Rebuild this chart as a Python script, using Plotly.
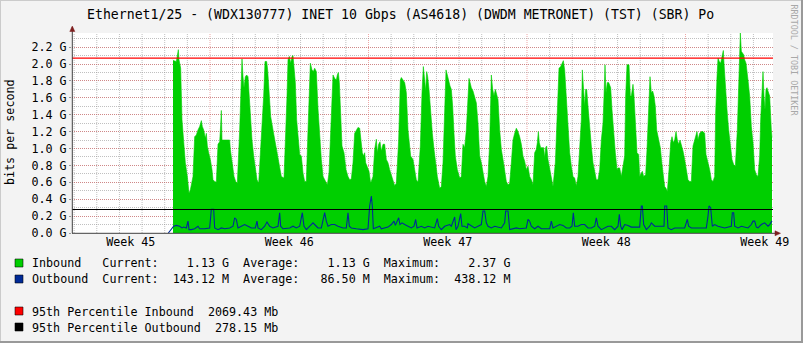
import plotly.graph_objects as go

# ---------------- data (time index: 1 step ~ 21.2 min, 0 = left edge) -------------
in_t = [303, 305, 313, 316, 319, 321, 325, 326, 330, 335, 340, 346, 351, 355, 360, 363,
        368, 373, 378, 383, 388, 391, 395, 400, 403, 406, 410, 415, 420, 423, 428, 433,
        438, 443, 446, 448, 450, 456, 473, 475, 480, 486, 491, 496,
        503, 506, 510, 513, 516, 520, 524, 528, 531, 535, 540, 545, 550, 555, 560,
        570, 575, 579, 584, 587, 591, 596, 603, 608, 615, 621, 628, 636,
        640, 645, 648, 652, 656, 660, 663, 666, 670, 674, 679, 683, 688, 693, 698, 703,
        708, 712, 715, 720, 724, 728, 733,
        738, 743, 748, 753, 760, 766, 771, 776, 780, 783, 788, 793, 796, 799, 802, 806,
        810, 816, 822, 828, 833, 838, 843, 848, 853, 858, 863, 866, 871, 875, 878, 881,
        886, 891, 896, 903, 908, 913, 916, 920, 924, 928, 933, 938, 943, 948, 953, 960,
        968, 973, 980, 985, 988, 993, 998, 1003, 1008, 1016, 1023, 1028, 1033, 1038,
        1045, 1050, 1054, 1058, 1061, 1064, 1067, 1071, 1076, 1081, 1086, 1091, 1096,
        1103, 1108, 1113, 1118, 1122, 1126, 1130, 1134, 1138, 1142, 1146, 1150, 1156,
        1163, 1168, 1173, 1178, 1183,
        1191, 1198, 1203, 1208, 1213, 1218, 1223, 1228, 1233, 1238, 1243, 1248, 1253,
        1256, 1258, 1262, 1266, 1270, 1274, 1278, 1283, 1288, 1293, 1298, 1303, 1308,
        1313, 1318, 1323, 1328, 1333, 1338, 1343, 1348, 1353, 1358, 1363, 1368, 1373,
        1378, 1383, 1388, 1393, 1396, 1399, 1402, 1406, 1415, 1418, 1421, 1424, 1428,
        1433, 1438, 1443, 1450, 1456, 1461, 1466, 1471, 1474, 1478, 1483, 1488, 1493,
        1498, 1503, 1508, 1513, 1518, 1523, 1528, 1531, 1535, 1538, 1541, 1544, 1548,
        1553, 1558, 1563, 1568, 1573, 1578, 1583, 1588, 1593, 1596, 1599, 1602, 1606,
        1610, 1616, 1620, 1625, 1630, 1635,
        1638, 1643, 1648, 1653, 1658, 1661, 1665, 1671, 1675, 1678, 1683, 1686, 1690,
        1695, 1700, 1703, 1708, 1711, 1715, 1721, 1725, 1728, 1731, 1734, 1738, 1742,
        1746, 1750, 1754, 1760, 1765, 1770, 1774, 1778, 1782, 1786, 1791, 1796, 1800,
        1804, 1808, 1812, 1816, 1820, 1824, 1828, 1833, 1838, 1843, 1848, 1853, 1858,
        1863, 1868, 1872, 1875, 1878, 1883, 1888, 1893, 1898, 1902, 1908, 1913, 1918,
        1923, 1928, 1931, 1935, 1938, 1942, 1946, 1950, 1954, 1956, 1960, 1965, 1970,
        1975, 1980, 1985, 1990, 1996, 2000, 2003, 2005, 2008, 2011, 2015, 2018, 2022,
        2028, 2033, 2038, 2043, 2048, 2053, 2058, 2063, 2066, 2070, 2073, 2076, 2079,
        2082, 2085, 2088, 2093, 2098, 2100]
in_g = [2.05, 2.04, 2.03, 2.13, 2.17, 2.05, 1.95, 1.95, 1.34, 1.07, 0.83, 0.67, 0.47, 0.51, 0.59, 0.67,
        1.14, 1.16, 1.22, 1.26, 1.33, 1.26, 1.22, 1.12, 1.18, 1.03, 0.95, 0.87, 0.75, 0.63, 0.61, 0.60,
        1.05, 1.08, 1.28, 1.45, 1.10, 1.10, 1.10, 0.99, 0.83, 0.67, 0.61, 0.59,
        1.22, 1.62, 2.06, 1.85, 1.72, 1.85, 1.87, 1.85, 1.66, 1.30, 1.10, 0.91, 0.75, 0.63, 0.59,
        1.22, 1.62, 2.03, 2.03, 1.93, 1.70, 1.38, 1.22, 1.10, 0.95, 0.83, 0.67, 0.65,
        1.03, 1.62, 2.05, 2.09, 2.01, 2.09, 2.10, 1.97, 1.78, 1.34, 1.07, 0.93, 0.91, 0.71, 0.61, 0.61,
        1.22, 1.81, 2.01, 1.93, 1.91, 1.95, 1.91,
        1.47, 1.10, 0.87, 0.67, 0.61, 0.57, 0.71, 1.14, 1.54, 1.87, 1.83, 1.81, 1.87, 1.90, 1.78, 1.42,
        1.03, 0.95, 0.75, 0.67, 0.63, 0.64, 0.83, 1.18, 1.22, 1.25, 1.24, 1.10, 0.95, 0.91, 0.95, 0.83,
        0.79, 0.73, 0.59, 0.67, 0.99, 1.11, 0.95, 1.05, 1.08, 0.97, 1.05, 1.05, 0.87, 0.83, 0.75, 0.67,
        0.56, 0.59, 1.10, 1.81, 1.84, 1.81, 1.78, 1.66, 1.22, 0.91, 0.87, 0.75, 0.63, 0.60,
        1.03, 1.66, 1.97, 1.81, 1.68, 1.91, 1.85, 1.70, 1.42, 1.18, 0.99, 0.83, 0.67,
        0.53, 0.55, 0.83, 1.62, 1.93, 1.87, 1.78, 1.74, 1.70, 1.50, 1.18, 0.91, 0.75,
        0.65, 0.67, 1.05, 1.01, 1.22,
        1.83, 1.72, 1.68, 1.62, 1.54, 1.30, 0.91, 0.83, 0.71, 0.61, 0.55, 0.67, 1.07,
        1.62, 1.87, 1.70, 1.62, 1.70, 1.64, 1.58, 1.22, 0.99, 0.87, 0.71, 0.61, 0.57,
        0.59, 0.83, 1.10, 1.18, 1.24, 1.20, 1.14, 1.05, 0.91, 0.85, 0.75, 0.79, 0.67,
        0.63, 0.57, 0.95, 0.99, 1.07, 1.20, 1.07, 1.01, 1.01, 0.89, 1.01, 1.03, 0.87,
        0.75, 0.67, 0.55, 0.83, 1.42, 1.95, 1.97, 2.01, 2.04, 1.93, 1.62, 1.22, 0.95,
        0.79, 0.67, 0.65, 0.56, 0.67, 1.07, 1.34, 1.93, 1.70, 1.50, 1.70, 1.70, 1.50,
        1.22, 1.03, 0.83, 0.71, 0.63, 0.63, 0.75, 1.10, 1.30, 1.62, 1.99, 1.66, 1.78,
        1.78, 1.72, 1.46, 1.14, 0.95, 0.75,
        0.77, 0.77, 0.67, 0.79, 0.91, 1.62, 1.99, 1.99, 1.62, 1.62, 1.76, 1.62, 1.34,
        0.95, 0.93, 0.67, 0.71, 0.73, 0.67, 0.69, 0.99, 1.34, 1.62, 1.85, 1.66, 1.68,
        1.62, 1.50, 1.22, 1.08, 1.01, 0.81, 0.67, 0.55, 0.53, 0.49, 0.75, 1.07, 1.14,
        1.07, 1.10, 1.20, 1.10, 1.05, 1.10, 1.05, 0.97, 0.87, 0.75, 0.63, 0.61, 0.61,
        1.03, 1.10, 1.18, 1.20, 1.10, 1.18, 1.20, 1.20, 1.18, 0.93, 0.83, 0.75, 0.63,
        0.61, 0.67, 1.42, 1.85, 2.07, 2.03, 2.01, 2.09, 2.16, 2.01, 1.70, 1.46, 1.22,
        1.07, 0.87, 0.81, 0.79, 1.22, 1.81, 2.17, 2.37, 2.15, 2.13, 2.11, 2.05, 2.01,
        1.81, 1.62, 1.26, 1.07, 0.75, 0.69, 0.67, 0.91, 1.34, 1.62, 1.91, 1.62, 1.46,
        1.70, 1.72, 1.68, 1.62, 1.22, 1.13]

out_t = [289, 305, 313, 323, 330, 335, 343, 348, 351, 358, 368, 378, 383, 398, 413, 418,
         425, 428, 438, 448, 458, 473, 483, 488, 493, 498, 508, 518, 528, 538, 550, 555,
         558, 568, 578, 585, 593, 603, 618, 623, 626, 633, 653, 663, 673, 683, 691, 696,
         703, 713, 723, 733,
         738, 748, 758, 763, 768, 778, 788, 798, 813, 823, 828, 832, 838, 853, 873, 888,
         893, 898, 901, 904, 913, 923, 928, 938, 948, 958, 966, 970, 974, 980, 984, 990,
         998, 1008, 1018, 1026, 1031, 1035, 1048, 1058, 1068, 1088, 1096, 1100, 1108,
         1118, 1133, 1138, 1144, 1148, 1152, 1158, 1166, 1170, 1178, 1186,
         1188, 1198, 1208, 1218, 1228, 1233, 1238, 1243, 1248, 1258, 1268, 1288, 1298,
         1301, 1308, 1313, 1323, 1333, 1343, 1363, 1368, 1373, 1378, 1388, 1398, 1408,
         1433, 1438, 1443, 1453, 1463, 1473, 1483, 1493, 1500, 1504, 1508, 1518, 1528,
         1538, 1548, 1558, 1568, 1573, 1578, 1588, 1598, 1608, 1618, 1628, 1638, 1642,
         1646, 1650, 1658, 1668, 1678, 1703, 1708, 1711, 1715, 1723, 1733, 1738, 1748,
         1776, 1778, 1784, 1788, 1798, 1808, 1838, 1846, 1850, 1858, 1903, 1908, 1911,
         1916, 1921, 1928, 1938, 1958, 1978, 1981, 1985, 1988, 1998, 2008, 2028, 2038,
         2043, 2048, 2053, 2058, 2068, 2078, 2088, 2093, 2100]
out_g = [0.00, 0.08, 0.09, 0.08, 0.06, 0.07, 0.06, 0.14, 0.04, 0.04, 0.05, 0.08, 0.05, 0.05, 0.06, 0.28,
         0.28, 0.06, 0.04, 0.06, 0.05, 0.06, 0.08, 0.18, 0.16, 0.06, 0.08, 0.10, 0.08, 0.06, 0.06, 0.14,
         0.06, 0.04, 0.08, 0.13, 0.08, 0.06, 0.08, 0.24, 0.08, 0.05, 0.06, 0.08, 0.06, 0.08, 0.24, 0.08,
         0.04, 0.08, 0.12, 0.08,
         0.06, 0.06, 0.24, 0.14, 0.08, 0.10, 0.10, 0.08, 0.06, 0.06, 0.24, 0.08, 0.06, 0.05, 0.04, 0.05,
         0.32, 0.438, 0.32, 0.05, 0.06, 0.08, 0.05, 0.06, 0.07, 0.10, 0.14, 0.09, 0.12, 0.18, 0.10, 0.12,
         0.10, 0.08, 0.06, 0.08, 0.16, 0.06, 0.08, 0.06, 0.08, 0.06, 0.17, 0.08, 0.04,
         0.08, 0.10, 0.08, 0.14, 0.19, 0.04, 0.08, 0.23, 0.08, 0.08, 0.06,
         0.11, 0.08, 0.06, 0.08, 0.10, 0.26, 0.26, 0.12, 0.08, 0.06, 0.08, 0.06, 0.12,
         0.26, 0.26, 0.04, 0.05, 0.06, 0.05, 0.06, 0.16, 0.14, 0.08, 0.05, 0.08, 0.05,
         0.05, 0.14, 0.06, 0.08, 0.10, 0.09, 0.06, 0.06, 0.08, 0.24, 0.08, 0.08, 0.10,
         0.10, 0.06, 0.06, 0.08, 0.18, 0.08, 0.04, 0.06, 0.08, 0.08, 0.04, 0.08, 0.22,
         0.08, 0.04, 0.10, 0.09, 0.07, 0.07, 0.32, 0.32, 0.10, 0.04, 0.08, 0.12, 0.08,
         0.08, 0.32, 0.32, 0.06, 0.04, 0.06, 0.06, 0.16, 0.08, 0.06, 0.06, 0.20, 0.32,
         0.30, 0.08, 0.10, 0.08, 0.06, 0.08, 0.24, 0.24, 0.08, 0.06, 0.08, 0.06, 0.10,
         0.14, 0.14, 0.07, 0.06, 0.10, 0.12, 0.08, 0.10, 0.143]

week_labels = ["Week 45", "Week 46", "Week 47", "Week 48", "Week 49"]
y_tick_vals = [0.0, 0.2, 0.4, 0.6, 0.8, 1.0, 1.2, 1.4, 1.6, 1.8, 2.0, 2.2]
y_tick_text = ["%.1f G" % v for v in y_tick_vals]

pct95_in_mb = 2069.43
pct95_out_mb = 278.15
stats_in = ("1.13 G", "1.13 G", "2.37 G")
stats_out = ("143.12 M", "86.50 M", "438.12 M")

title = "Ethernet1/25 - (WDX130777) INET 10 Gbps (AS4618) (DWDM METRONET) (TST) (SBR) Po"

# ---------------- time axis geometry (in steps) -------------
WEEK0 = 414.0          # start of week 46
WEEK = 475.5           # steps per week
DAY = WEEK / 7.0
X_MAX = 2103.0
Y_MAX = 2.367

# ---------------- layout geometry -------------
W, H = 803, 343
L, R, T, B = 72, 30, 33, 110
PW = W - L - R
PH = H - T - B


def pxx(x):
    return (x - L) / PW


def pxy(y):
    return (T + PH - y) / PH


MONO = "DejaVu Sans Mono"
GREEN = "#00CF00"
BLUE = "#002A97"
NB = "\u00a0"

fig = go.Figure()
fig.add_trace(go.Scatter(x=in_t, y=in_g, mode="lines", fill="tozeroy",
                         fillcolor=GREEN, line=dict(color=GREEN, width=0.6),
                         hoverinfo="skip", showlegend=False))
fig.add_trace(go.Scatter(x=out_t, y=out_g, mode="lines",
                         line=dict(color=BLUE, width=1.1),
                         hoverinfo="skip", showlegend=False))

shapes = []
# vertical grid: daily (gray) and weekly (red)
k = -20
while True:
    xv = WEEK0 + k * DAY
    if xv > X_MAX:
        break
    if xv > 4:
        weekly = (k % 7 == 0)
        shapes.append(dict(type="line", xref="x", yref="paper", x0=xv, x1=xv, y0=0, y1=1,
                           layer="below",
                           line=dict(color="rgba(222,80,80,0.5)" if weekly else "rgba(140,140,140,0.55)",
                                     width=1, dash="1px,1px")))
    k += 1

# 95th percentile rules
shapes.append(dict(type="line", xref="paper", yref="y", x0=0, x1=1,
                   y0=pct95_in_mb / 1000, y1=pct95_in_mb / 1000,
                   line=dict(color="#FF0000", width=1.2), layer="above"))
shapes.append(dict(type="line", xref="paper", yref="y", x0=0, x1=1,
                   y0=pct95_out_mb / 1000, y1=pct95_out_mb / 1000,
                   line=dict(color="#000000", width=1.2), layer="above"))

AX = "#404040"
ARROW = "#7F1F1F"
# axis lines
shapes.append(dict(type="line", xref="paper", yref="paper", x0=pxx(72), x1=pxx(779),
                   y0=pxy(233.3), y1=pxy(233.3), line=dict(color=AX, width=1)))
shapes.append(dict(type="line", xref="paper", yref="paper", x0=pxx(72.3), x1=pxx(72.3),
                   y0=pxy(233.3), y1=pxy(27), line=dict(color=AX, width=1)))


def tri(points, color):
    p = "M " + " L ".join("%f %f" % (pxx(a), pxy(b)) for a, b in points) + " Z"
    return dict(type="path", xref="paper", yref="paper", path=p,
                fillcolor=color, line=dict(color=color, width=0.5))


shapes.append(tri([(69.8, 31.5), (74.8, 31.5), (72.3, 26)], ARROW))
shapes.append(tri([(775, 230.8), (775, 235.8), (780.5, 233.3)], ARROW))

# legend colour boxes
for y0, col in [(259, GREEN), (275, BLUE), (307, "#FF0000"), (323, "#000000")]:
    shapes.append(dict(type="rect", xref="paper", yref="paper",
                       x0=pxx(15), x1=pxx(23), y0=pxy(y0), y1=pxy(y0 + 8),
                       fillcolor=col, line=dict(color="rgba(0,0,0,0.55)", width=1)))

# image frame
shapes.append(dict(type="line", xref="paper", yref="paper", x0=pxx(0.5), x1=pxx(0.5),
                   y0=pxy(0), y1=pxy(343), line=dict(color="#CBCBCB", width=1)))
shapes.append(dict(type="line", xref="paper", yref="paper", x0=pxx(0), x1=pxx(803),
                   y0=pxy(0.5), y1=pxy(0.5), line=dict(color="#CBCBCB", width=1)))
shapes.append(dict(type="line", xref="paper", yref="paper", x0=pxx(802), x1=pxx(802),
                   y0=pxy(0), y1=pxy(343), line=dict(color="#999999", width=2)))
shapes.append(dict(type="line", xref="paper", yref="paper", x0=pxx(0), x1=pxx(803),
                   y0=pxy(342), y1=pxy(342), line=dict(color="#999999", width=2)))

annotations = []


def txt(x, y, s, size=11.7, color="#000000", xanchor="left", angle=0):
    annotations.append(dict(xref="paper", yref="paper", x=pxx(x), y=pxy(y),
                            text=s.replace(" ", NB), showarrow=False,
                            xanchor=xanchor, yanchor="middle", textangle=angle,
                            font=dict(family=MONO, size=size, color=color)))


txt(400, 14, title, size=13.2, xanchor="center")
txt(10, 132, "bits per second", xanchor="center", angle=-90)
txt(793.5, 60, "RRDTOOL / TOBI OETIKER", size=8.4, color="#A8A8A8", xanchor="center", angle=90)

row1 = "Inbound   Current:%10s  Average:%10s  Maximum:%10s" % stats_in
row2 = "Outbound  Current:%10s  Average:%10s  Maximum:%10s" % stats_out
row3 = "95th Percentile Inbound  %.2f Mb" % pct95_in_mb
row4 = "95th Percentile Outbound  %.2f Mb" % pct95_out_mb
txt(29.5, 263.3, row1)
txt(29.5, 279.3, row2)
txt(29.5, 311.5, row3)
txt(29.5, 327.5, row4)

week_pos = [WEEK0 + (i - 0.5) * WEEK for i in range(len(week_labels))]

fig.update_layout(
    width=W, height=H,
    margin=dict(l=L, r=R, t=T, b=B, pad=0),
    paper_bgcolor="#F3F3F3", plot_bgcolor="#FFFFFF",
    showlegend=False,
    shapes=shapes, annotations=annotations,
    font=dict(family=MONO, size=11.7, color="#000000"),
    xaxis=dict(range=[0, X_MAX], tickvals=week_pos, ticktext=week_labels,
               showgrid=False, zeroline=False, showline=False, ticks="",
               tickfont=dict(family=MONO, size=11.7, color="#000000"), fixedrange=True),
    yaxis=dict(range=[0, Y_MAX], tickvals=y_tick_vals, ticktext=y_tick_text,
               showgrid=True, gridcolor="rgba(222,80,80,0.5)", griddash="1px,1px",
               zeroline=False, showline=False, ticks="outside", ticklen=2,
               tickcolor="#999999",
               minor=dict(dtick=0.1, tick0=0, showgrid=True,
                          gridcolor="rgba(140,140,140,0.55)", griddash="1px,1px"),
               tickfont=dict(family=MONO, size=11.7, color="#000000"), fixedrange=True),
)

fig.write_html("out.html")
